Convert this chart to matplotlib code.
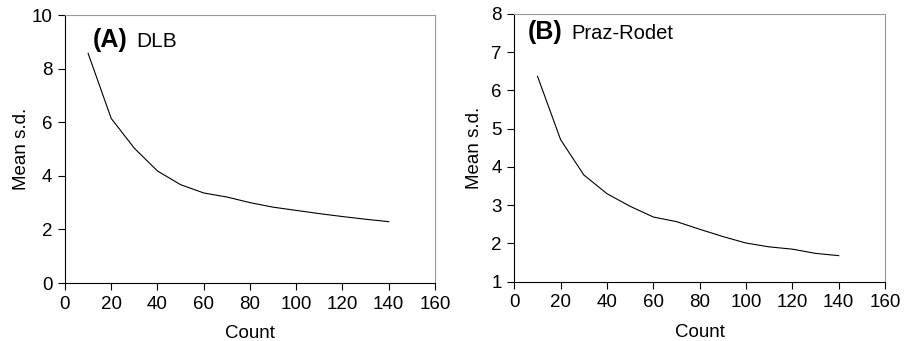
import matplotlib
matplotlib.use("Agg")
import matplotlib.pyplot as plt

plt.rcParams["font.family"] = ["Liberation Sans", "DejaVu Sans"]

count = [10, 20, 30, 40, 50, 60, 70, 80, 90, 100, 110, 120, 130, 140]
dlb_sd = [8.57, 6.14, 5.03, 4.18, 3.67, 3.36, 3.21, 3.0, 2.83, 2.71, 2.59, 2.48, 2.38, 2.29]
praz_sd = [6.37, 4.71, 3.79, 3.30, 2.97, 2.69, 2.57, 2.37, 2.18, 2.01, 1.91, 1.85, 1.74, 1.68]

x_ticks = [0, 20, 40, 60, 80, 100, 120, 140, 160]

fig = plt.figure(figsize=(9.1, 3.41), dpi=100)
ax_a = fig.add_axes([0.0714, 0.170, 0.4066, 0.786])
ax_b = fig.add_axes([0.5652, 0.174, 0.4074, 0.785])


def style(ax, ylim, yticks, ypad):
    ax.set_xlim(0, 160)
    ax.set_ylim(*ylim)
    ax.set_xticks(x_ticks)
    ax.set_yticks(yticks)
    ax.tick_params(direction="out", length=5, width=0.8, labelsize=13.5, pad=4)
    ax.tick_params(top=False, right=False)
    for side in ("top", "right"):
        ax.spines[side].set_color("#999999")
        ax.spines[side].set_linewidth(0.8)
    for side in ("left", "bottom"):
        ax.spines[side].set_linewidth(0.8)
    ax.set_xlabel("Count", fontsize=13.5, labelpad=9)
    ax.set_ylabel("Mean s.d.", fontsize=13.5, labelpad=ypad)


ax_a.plot(count, dlb_sd, color="black", linewidth=0.8)
style(ax_a, (0, 10), [0, 2, 4, 6, 8, 10], 1)
ax_a.text(0.075, 0.88, "(A)", transform=ax_a.transAxes, fontsize=18,
          fontweight="bold", va="baseline")
ax_a.text(0.192, 0.88, "DLB", transform=ax_a.transAxes, fontsize=15,
          va="baseline")

ax_b.plot(count, praz_sd, color="black", linewidth=0.8)
style(ax_b, (1, 8), [1, 2, 3, 4, 5, 6, 7, 8], 6)
ax_b.text(0.036, 0.906, "(B)", transform=ax_b.transAxes, fontsize=18,
          fontweight="bold", va="baseline")
ax_b.text(0.153, 0.906, "Praz-Rodet", transform=ax_b.transAxes, fontsize=14.5,
          va="baseline")

fig.savefig("out.png", dpi=100)
